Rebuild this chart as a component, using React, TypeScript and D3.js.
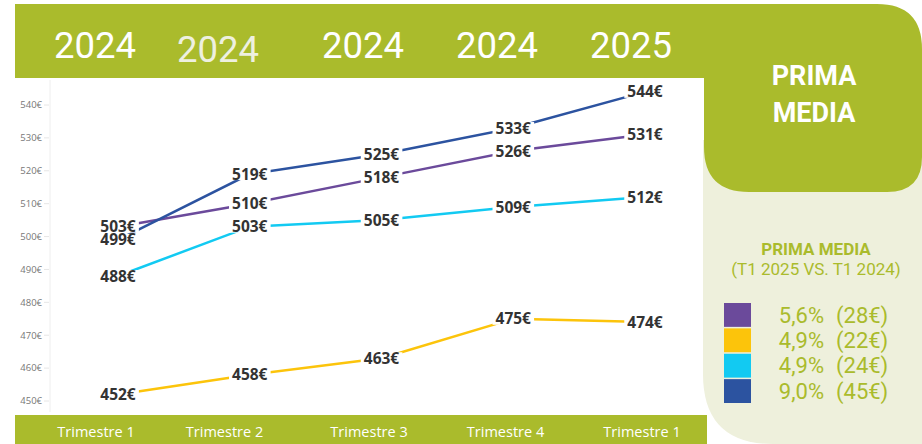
import React, { useEffect, useRef } from "react";
import * as d3 from "d3";

const quarters = ["T1 2024", "T2 2024", "T3 2024", "T4 2024", "T1 2025"];
const yearLabels = ["2024", "2024", "2024", "2024", "2025"];
const quarterLabels = ["Trimestre 1", "Trimestre 2", "Trimestre 3", "Trimestre 4", "Trimestre 1"];
const yTicks = [450, 460, 470, 480, 490, 500, 510, 520, 530, 540];

const purpleValues = [503, 510, 518, 526, 531];
const darkBlueValues = [499, 519, 525, 533, 544];
const cyanValues = [488, 503, 505, 509, 512];
const yellowValues = [452, 458, 463, 475, 474];

const legendPct = ["5,6%", "4,9%", "4,9%", "9,0%"];
const legendDiff = ["(28€)", "(22€)", "(24€)", "(45€)"];

const GREEN = "#aabb2c";
const PALE = "#eef0dc";
const series = [
  { name: "purple", values: purpleValues, color: "#6b4a9b" },
  { name: "darkblue", values: darkBlueValues, color: "#2c53a0" },
  { name: "cyan", values: cyanValues, color: "#12caf2" },
  { name: "yellow", values: yellowValues, color: "#fcc40b" },
];
const legendColors = ["#6b4a9b", "#fcc40b", "#12caf2", "#2c53a0"];

export default function App() {
  const ref = useRef<SVGSVGElement>(null);

  useEffect(() => {
    const svg = d3.select(ref.current);
    svg.selectAll("*").remove();
    const W = 922, H = 444;

    // right pale panel
    svg.append("path")
      .attr("d", `M703,140 L${W},140 L${W},${H} L773,${H} Q703,${H} 703,374 Z`)
      .attr("fill", PALE);

    // header band + right green box
    svg.append("path")
      .attr("d", `M15,4 L877,4 Q922,4 922,49 L922,157 Q922,192 887,192 L749,192 Q704,192 704,147 L704,78 L15,78 Z`)
      .attr("fill", GREEN);

    // bottom band
    svg.append("rect").attr("x", 15).attr("y", 415).attr("width", 692).attr("height", 29).attr("fill", GREEN);

    const x = d3.scalePoint<string>().domain(quarters).range([118, 645]);
    const y = d3.scaleLinear().domain([450, 540]).range([401, 105]);

    // header years
    const xYear = d3.scalePoint<string>().domain(d3.range(5).map(String)).range([95, 631]);
    svg.append("g").selectAll("text").data(yearLabels).enter().append("text")
      .attr("x", (_d, i) => xYear(String(i))! + (i === 1 ? -11 : 0))
      .attr("y", (_d, i) => (i === 1 ? 62 : 58))
      .attr("text-anchor", "middle")
      .attr("font-family", "Roboto")
      .attr("font-size", 36.5)
      .attr("fill", (_d, i) => (i === 1 ? "#eef0e0" : "#ffffff"))
      .text(d => d);

    // quarter labels
    const xQ = d3.scalePoint<string>().domain(d3.range(5).map(String)).range([96, 642]);
    svg.append("g").selectAll("text").data(quarterLabels).enter().append("text")
      .attr("x", (_d, i) => xQ(String(i))! + (i === 1 ? -8 : 0))
      .attr("y", 437)
      .attr("text-anchor", "middle")
      .attr("font-family", "Open Sans")
      .attr("font-size", 14.5)
      .attr("fill", "#ffffff")
      .text(d => d);

    // y axis
    svg.append("line").attr("x1", 50).attr("x2", 50).attr("y1", 80).attr("y2", 412)
      .attr("stroke", "#eeeeee").attr("stroke-width", 1);
    const yAxis = svg.append("g");
    yTicks.forEach(t => {
      yAxis.append("line").attr("x1", 44).attr("x2", 49).attr("y1", y(t)).attr("y2", y(t))
        .attr("stroke", "#e6e6e6");
      yAxis.append("text").attr("x", 42).attr("y", y(t)).attr("dy", "0.35em")
        .attr("text-anchor", "end").attr("font-family", "Open Sans").attr("font-size", 9.5)
        .attr("fill", "#777777").text(`${t}€`);
    });

    // lines
    const line = d3.line<number>().x((_d, i) => x(quarters[i])!).y(d => y(d));
    series.forEach(s => {
      svg.append("path").datum(s.values).attr("d", line).attr("fill", "none")
        .attr("stroke", s.color).attr("stroke-width", 2.5);
    });

    // labels
    const labelG = svg.append("g");
    series.forEach(s => {
      s.values.forEach((v, i) => {
        const g = labelG.append("g");
        const rect = g.append("rect").attr("fill", "#ffffff");
        const t = g.append("text")
          .attr("x", x(quarters[i])!).attr("y", y(v)).attr("dy", "0.36em")
          .attr("text-anchor", "middle").attr("font-family", "Open Sans").attr("font-weight", 700)
          .attr("font-size", 15.5).attr("fill", "#333333").text(`${v}€`);
        const bb = (t.node() as SVGTextElement).getBBox();
        rect.attr("x", bb.x - 3).attr("y", y(v) - 6).attr("width", bb.width + 6).attr("height", 12);
      });
    });
    labelG.selectAll("text").raise();

    // right box title
    svg.append("text").attr("x", 814).attr("y", 85).attr("text-anchor", "middle")
      .attr("font-family", "Roboto").attr("font-weight", 700).attr("font-size", 27)
      .attr("fill", "#ffffff").text("PRIMA");
    svg.append("text").attr("x", 814).attr("y", 122).attr("text-anchor", "middle")
      .attr("font-family", "Roboto").attr("font-weight", 700).attr("font-size", 27)
      .attr("fill", "#ffffff").text("MEDIA");

    // legend title
    svg.append("text").attr("x", 816).attr("y", 255).attr("text-anchor", "middle")
      .attr("font-family", "Roboto").attr("font-weight", 700).attr("font-size", 17)
      .attr("fill", GREEN).text("PRIMA MEDIA");
    svg.append("text").attr("x", 816).attr("y", 275).attr("text-anchor", "middle")
      .attr("font-family", "Roboto").attr("font-size", 17)
      .attr("fill", GREEN).text("(T1 2025 VS. T1 2024)");

    // legend
    const ly = d3.scaleBand<number>().domain(d3.range(4)).range([303, 403]).paddingInner(0.06);
    legendColors.forEach((c, i) => {
      svg.append("rect").attr("x", 724).attr("y", ly(i)!).attr("width", 27).attr("height", ly.bandwidth())
        .attr("fill", c);
      const cy = ly(i)! + ly.bandwidth() / 2;
      svg.append("text").attr("x", 824).attr("y", cy).attr("dy", "0.35em").attr("text-anchor", "end")
        .attr("font-family", "Roboto").attr("font-size", 22).attr("fill", GREEN).text(legendPct[i]);
      svg.append("text").attr("x", 836).attr("y", cy).attr("dy", "0.35em")
        .attr("font-family", "Roboto").attr("font-size", 22).attr("fill", GREEN).text(legendDiff[i]);
    });
  }, []);

  return (
    <div style={{ position: "absolute", left: 0, top: 0 }}>
      <svg ref={ref} width={922} height={444} style={{ display: "block", background: "#ffffff" }} />
    </div>
  );
}
